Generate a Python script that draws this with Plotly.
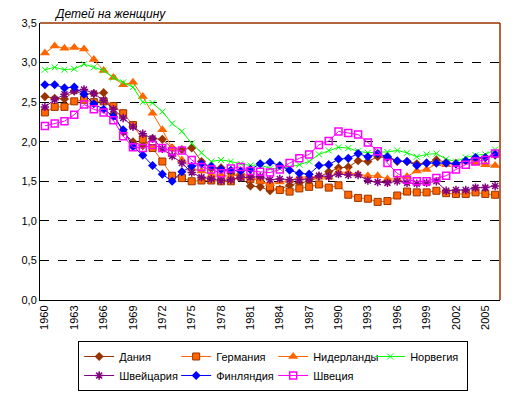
import plotly.graph_objects as go

years = [str(y) for y in range(1960, 2007)]
tick_years = [str(y) for y in range(1960, 2006, 3)]

denmark = [2.57, 2.55, 2.54, 2.64, 2.60, 2.61, 2.62, 2.35, 2.12, 2.00, 1.95, 2.04, 2.03, 1.92, 1.90, 1.92,
           1.75, 1.66, 1.67, 1.60, 1.55, 1.44, 1.43, 1.38, 1.40, 1.45, 1.48, 1.50, 1.56, 1.62, 1.67,
           1.68, 1.76, 1.75, 1.81, 1.80, 1.75, 1.75, 1.72, 1.73, 1.77, 1.74, 1.72, 1.76, 1.78, 1.80, 1.83]
germany = [2.37, 2.44, 2.44, 2.51, 2.53, 2.50, 2.51, 2.45, 2.36, 2.21, 2.03, 1.92, 1.75, 1.57, 1.54, 1.50,
           1.51, 1.51, 1.50, 1.50, 1.56, 1.53, 1.51, 1.43, 1.39, 1.37, 1.41, 1.43, 1.46, 1.42, 1.45,
           1.33, 1.29, 1.28, 1.24, 1.25, 1.32, 1.37, 1.36, 1.36, 1.38, 1.35, 1.34, 1.34, 1.36, 1.34, 1.33]
netherlands = [3.12, 3.21, 3.18, 3.19, 3.17, 3.04, 2.90, 2.81, 2.72, 2.75, 2.57, 2.36, 2.15, 1.92, 1.77, 1.66,
               1.63, 1.58, 1.58, 1.56, 1.60, 1.56, 1.50, 1.47, 1.49, 1.51, 1.55, 1.56, 1.55, 1.55, 1.62,
               1.61, 1.59, 1.57, 1.57, 1.53, 1.53, 1.56, 1.63, 1.65, 1.72, 1.71, 1.73, 1.75, 1.73, 1.71, 1.70]
norway = [2.91, 2.94, 2.91, 2.92, 2.98, 2.94, 2.90, 2.81, 2.75, 2.69, 2.50, 2.49, 2.38, 2.23, 2.13, 1.98,
          1.86, 1.75, 1.77, 1.75, 1.72, 1.70, 1.71, 1.66, 1.66, 1.68, 1.71, 1.75, 1.84, 1.89, 1.93,
          1.92, 1.88, 1.86, 1.87, 1.87, 1.89, 1.86, 1.81, 1.84, 1.85, 1.78, 1.75, 1.80, 1.83, 1.84, 1.90]
switzerland = [2.44, 2.53, 2.60, 2.64, 2.66, 2.61, 2.52, 2.41, 2.30, 2.19, 2.10, 2.04, 1.91, 1.82, 1.73, 1.61,
               1.55, 1.53, 1.51, 1.52, 1.55, 1.55, 1.56, 1.52, 1.53, 1.52, 1.52, 1.53, 1.57, 1.56, 1.59,
               1.58, 1.58, 1.51, 1.49, 1.48, 1.50, 1.48, 1.47, 1.48, 1.50, 1.38, 1.39, 1.39, 1.42, 1.42, 1.44]
finland = [2.72, 2.72, 2.68, 2.69, 2.60, 2.48, 2.41, 2.32, 2.15, 1.94, 1.83, 1.70, 1.59, 1.50, 1.62, 1.69,
           1.72, 1.69, 1.65, 1.64, 1.63, 1.65, 1.72, 1.74, 1.70, 1.64, 1.60, 1.59, 1.70, 1.71, 1.78,
           1.79, 1.85, 1.81, 1.85, 1.81, 1.76, 1.75, 1.70, 1.73, 1.73, 1.73, 1.72, 1.76, 1.80, 1.80, 1.84]
sweden = [2.20, 2.23, 2.26, 2.34, 2.47, 2.41, 2.37, 2.27, 2.07, 1.93, 1.92, 1.96, 1.92, 1.88, 1.89, 1.77,
          1.68, 1.65, 1.60, 1.66, 1.68, 1.63, 1.62, 1.61, 1.65, 1.73, 1.79, 1.84, 1.96, 2.01, 2.13,
          2.11, 2.09, 1.99, 1.88, 1.73, 1.60, 1.52, 1.50, 1.50, 1.54, 1.57, 1.65, 1.71, 1.75, 1.77, 1.85]

series = [
    ("Дания", denmark, "#993300", dict(symbol="diamond", size=7, color="#993300")),
    ("Германия", germany, "#FF6600", dict(symbol="square", size=7, color="#FF6600",
                                          line=dict(color="#993300", width=1))),
    ("Нидерланды", netherlands, "#FF6600", dict(symbol="triangle-up", size=9, color="#FF6600")),
    ("Норвегия", norway, "#00FF00", dict(symbol="x-thin", size=6, color="#00FF00",
                                         line=dict(color="#00FF00", width=1))),
    ("Швейцария", switzerland, "#800080", dict(symbol="asterisk", size=7, color="#800080",
                                               line=dict(color="#800080", width=1.5))),
    ("Финляндия", finland, "#0000FF", dict(symbol="diamond", size=7, color="#0000FF")),
    ("Швеция", sweden, "#FF00FF", dict(symbol="square-open", size=7, color="#FF00FF",
                                       line=dict(color="#FF00FF", width=1.5))),
]

fig = go.Figure()
for name, vals, col, mk in series:
    fig.add_trace(go.Scatter(x=years, y=vals, name=name, mode="lines+markers",
                             line=dict(color=col, width=1), marker=mk))

# page body has an 8px default margin; figure sized so plot area lands at x 40-500, y 23-300
fig.update_layout(
    width=507, height=386,
    margin=dict(l=32, r=15, t=15, b=94, autoexpand=False),
    paper_bgcolor="white", plot_bgcolor="white",
    separators=", ",
    font=dict(family="Liberation Sans, Arial, sans-serif", size=11, color="black"),
    showlegend=True,
    legend=dict(orientation="h", x=0.083, y=-0.148, xanchor="left", yanchor="top",
                bordercolor="black", borderwidth=1, entrywidth=52, entrywidthmode="pixels",
                font=dict(size=11), itemwidth=30, tracegroupgap=0),
    xaxis=dict(type="category", range=[-0.5, 46.5], tickvals=tick_years, ticktext=tick_years,
               tickangle=-90, showgrid=False, showline=True, linecolor="black", linewidth=1,
               ticks="", zeroline=False, automargin=False),
    yaxis=dict(range=[0, 3.5], dtick=0.5, tickformat=".1f", showgrid=True, gridcolor="black",
               griddash="dash", gridwidth=1, showline=True, linecolor="black", linewidth=1,
               ticks="", zeroline=False, automargin=False),
    annotations=[dict(text="<i>Детей на женщину</i>", xref="paper", yref="paper", x=0.025, y=1.0,
                      xanchor="left", yanchor="bottom", showarrow=False, font=dict(size=12))],
    shapes=[
        dict(type="line", xref="paper", yref="paper", x0=0, x1=1, y0=1, y1=1,
             line=dict(color="#993300", width=1.5)),
        dict(type="line", xref="paper", yref="paper", x0=1, x1=1, y0=0, y1=1,
             line=dict(color="#993300", width=1.5)),
    ],
)

fig.write_html("out.html")
